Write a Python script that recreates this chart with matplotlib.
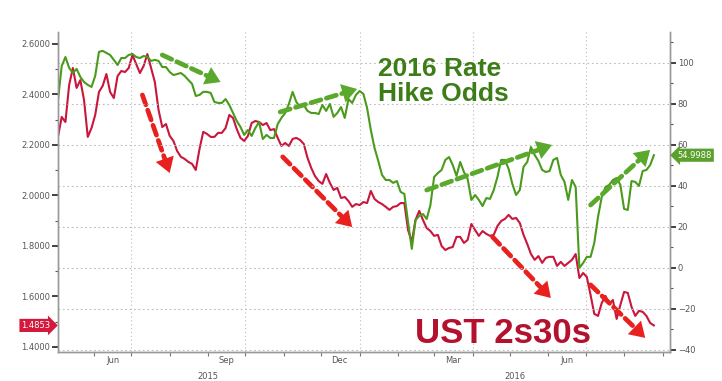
import pandas as pd
import matplotlib
matplotlib.use('Agg')
import matplotlib.pyplot as plt
import matplotlib.dates as mdates
import matplotlib.transforms as mtransforms
from matplotlib.ticker import MultipleLocator, FormatStrFormatter

# values, one sample every 3 days from 2015-05-03
start_date = '2015-05-03'
ust_2s30s = [
    2.232, 2.311, 2.291, 2.438, 2.505, 2.426, 2.457, 2.378, 2.232, 2.267,
    2.319, 2.410, 2.434, 2.481, 2.410, 2.386, 2.473, 2.493, 2.489, 2.505,
    2.556, 2.521, 2.485, 2.513, 2.560, 2.505, 2.450, 2.339, 2.271, 2.283,
    2.236, 2.216, 2.176, 2.153, 2.145, 2.133, 2.125, 2.101, 2.184, 2.252,
    2.244, 2.232, 2.232, 2.248, 2.248, 2.267, 2.319, 2.307, 2.263, 2.228,
    2.216, 2.236, 2.287, 2.295, 2.291, 2.279, 2.287, 2.259, 2.263, 2.228,
    2.196, 2.208, 2.196, 2.224, 2.228, 2.220, 2.204, 2.149, 2.109, 2.077,
    2.057, 2.046, 2.085, 2.050, 2.022, 2.030, 1.990, 1.994, 1.978, 1.955,
    1.966, 1.962, 1.974, 1.970, 2.018, 1.986, 1.974, 1.966, 1.955, 1.943,
    1.955, 1.958, 1.970, 1.970, 1.863, 1.816, 1.903, 1.939, 1.903, 1.871,
    1.859, 1.840, 1.844, 1.800, 1.784, 1.792, 1.796, 1.836, 1.836, 1.812,
    1.824, 1.887, 1.863, 1.840, 1.859, 1.848, 1.840, 1.844, 1.879, 1.899,
    1.907, 1.923, 1.907, 1.911, 1.891, 1.844, 1.808, 1.768, 1.745, 1.760,
    1.733, 1.753, 1.757, 1.757, 1.721, 1.737, 1.721, 1.733, 1.745, 1.768,
    1.673, 1.693, 1.677, 1.606, 1.531, 1.523, 1.574, 1.602, 1.570, 1.586,
    1.511, 1.566, 1.618, 1.614, 1.559, 1.523, 1.543, 1.539, 1.523, 1.495,
    1.4853,
]
hike_odds = [
    82.0, 98.5, 102.9, 97.6, 95.1, 97.1, 93.2, 90.7, 89.3, 88.3,
    93.7, 105.4, 105.9, 104.9, 103.9, 101.5, 99.0, 102.4, 102.4, 103.9,
    104.4, 102.9, 102.4, 103.4, 102.9, 101.0, 101.5, 101.0, 98.0, 98.0,
    95.6, 94.1, 94.6, 95.1, 93.7, 91.7, 89.8, 83.9, 84.4, 85.9,
    85.9, 85.4, 81.0, 80.5, 80.5, 82.4, 79.5, 75.6, 71.7, 68.8,
    64.9, 67.3, 64.4, 68.3, 71.2, 62.9, 64.9, 63.4, 63.4, 70.2,
    73.2, 75.6, 80.0, 85.9, 81.0, 78.5, 79.5, 76.6, 75.6, 75.6,
    75.1, 79.5, 76.6, 80.0, 73.7, 75.6, 78.5, 73.2, 82.4, 80.5,
    84.4, 86.3, 84.9, 78.0, 67.3, 58.5, 52.2, 45.4, 42.9, 42.9,
    41.5, 42.4, 37.1, 36.1, 22.4, 9.3, 23.4, 25.4, 26.3, 23.9,
    30.7, 44.4, 46.3, 47.8, 52.7, 54.1, 50.2, 44.9, 51.7, 46.8,
    43.4, 33.2, 35.6, 33.2, 30.2, 34.1, 33.7, 38.0, 44.4, 52.7,
    52.7, 48.3, 41.0, 35.6, 38.0, 49.3, 51.7, 59.0, 55.1, 52.2,
    47.8, 46.8, 47.3, 52.7, 53.7, 45.4, 42.0, 33.2, 42.9, 39.5,
    0.0, 2.4, 5.4, 5.4, 12.2, 24.9, 34.6, 39.5, 40.5, 42.9,
    43.9, 40.5, 28.8, 28.3, 42.4, 42.0, 40.0, 47.3, 47.8, 50.2,
    54.9988,
]
dates = pd.date_range(start_date, periods=len(ust_2s30s), freq='3D')

month_labels = ['Jun', 'Sep', 'Dec', 'Mar', 'Jun']
month_label_dates = ['2015-06-16', '2015-09-16', '2015-12-16', '2016-03-16', '2016-06-16']
year_labels = ['2015', '2016']
year_label_dates = ['2015-09-01', '2016-05-05']

# trend arrows: (start date, start value, end date, end value)
red_arrows = [
    ('2015-07-10', 2.398, '2015-08-01', 2.089),
    ('2015-10-31', 2.153, '2015-12-26', 1.875),
    ('2016-04-17', 1.836, '2016-06-03', 1.594),
    ('2016-07-05', 1.646, '2016-08-18', 1.436),
]
green_arrows = [
    ('2015-07-26', 103.9, '2015-09-11', 90.7),
    ('2015-10-29', 76.1, '2015-12-30', 87.3),
    ('2016-02-24', 38.0, '2016-06-04', 60.0),
    ('2016-07-05', 30.7, '2016-08-22', 57.6),
]

RED = '#c8163c'
GREEN = '#4a9a1c'
ARROW_RED = '#e8201e'
ARROW_GREEN = '#5aa82c'


def dashed_arrow(axis, d0, v0, d1, v1, color):
    p0 = (mdates.date2num(pd.Timestamp(d0)), v0)
    p1 = (mdates.date2num(pd.Timestamp(d1)), v1)
    axis.annotate('', xy=p1, xytext=p0,
                  arrowprops=dict(arrowstyle='-', color=color, lw=3.4,
                                  linestyle=(0, (2.2, 1.2)),
                                  shrinkA=0, shrinkB=8), zorder=6)
    axis.annotate('', xy=p1, xytext=p0,
                  arrowprops=dict(arrowstyle='-|>,head_length=0.6,head_width=0.38',
                                  color=color, lw=0, mutation_scale=18,
                                  shrinkA=0, shrinkB=0), zorder=6)


fig = plt.figure(figsize=(7.22, 3.81), dpi=100)
ax = fig.add_axes([0.0803, 0.0761, 0.8477, 0.8399])
ax2 = ax.twinx()

ax.plot(dates, ust_2s30s, color=RED, lw=1.5)
ax2.plot(dates, hike_odds, color=GREEN, lw=1.5)

ax.set_xlim(pd.Timestamp('2015-05-03'), pd.Timestamp('2016-09-07'))
ax.set_ylim(1.380, 2.6475)
ax2.set_ylim(-41.0, 115.1)

# axes look
for a in (ax, ax2):
    a.spines['top'].set_visible(False)
    for s in ('left', 'right', 'bottom'):
        a.spines[s].set_color('#999999')
        a.spines[s].set_linewidth(1.0)

ax.yaxis.set_major_locator(MultipleLocator(0.2))
ax.yaxis.set_minor_locator(MultipleLocator(0.1))
ax.yaxis.set_major_formatter(FormatStrFormatter('%.4f'))
ax2.yaxis.set_major_locator(MultipleLocator(20))
ax2.yaxis.set_minor_locator(MultipleLocator(10))

ax.xaxis.set_major_locator(mdates.MonthLocator(bymonth=[1, 4, 7, 10]))
ax.xaxis.set_minor_locator(mdates.MonthLocator())
ax.xaxis.set_major_formatter(plt.NullFormatter())

ax.tick_params(axis='y', which='major', length=4, width=1.3, colors='#333333',
               labelsize=6, labelcolor='#555555', pad=1.5)
ax.tick_params(axis='y', which='minor', length=2.5, width=0.8, colors='#555555')
ax2.tick_params(axis='y', which='major', length=4, width=1.3, colors='#333333',
                labelsize=6, labelcolor='#555555', pad=1.5)
ax2.tick_params(axis='y', which='minor', length=2.5, width=0.8, colors='#555555')
ax.tick_params(axis='x', which='both', length=3, width=0.8, colors='#777777')

ax.grid(axis='x', which='major', color='#bbbbbb', lw=0.8, linestyle=(0, (1, 2.5)))
ax2.grid(axis='y', which='major', color='#bbbbbb', lw=0.8, linestyle=(0, (1.5, 2.5)))
ax2.set_axisbelow(True)

# month and year labels under the axis
xblend = mtransforms.blended_transform_factory(ax.transData, ax.transAxes)
for lab, d in zip(month_labels, month_label_dates):
    ax.text(pd.Timestamp(d), -0.026, lab, transform=xblend, ha='center',
            va='center', fontsize=6, color='#555555')
for lab, d in zip(year_labels, year_label_dates):
    ax.text(pd.Timestamp(d), -0.078, lab, transform=xblend, ha='center',
            va='center', fontsize=6, color='#555555', clip_on=False)

# last value tags
yblend_l = mtransforms.blended_transform_factory(ax.transAxes, ax.transData)
ax.text(-0.012, ust_2s30s[-1], f'{ust_2s30s[-1]:.4f}', transform=yblend_l,
        ha='right', va='center', fontsize=6, color='white', zorder=10,
        bbox=dict(boxstyle='rarrow,pad=0.25', fc='#d41a3c', ec='none'))
yblend_r = mtransforms.blended_transform_factory(ax2.transAxes, ax2.transData)
ax2.text(1.012, hike_odds[-1], f'{hike_odds[-1]:.4f}'.rstrip('0'), transform=yblend_r,
         ha='left', va='center', fontsize=6, color='white', zorder=10,
         bbox=dict(boxstyle='larrow,pad=0.25', fc='#5aa02c', ec='none'))

# trend arrows
for d0, v0, d1, v1 in red_arrows:
    dashed_arrow(ax, d0, v0, d1, v1, ARROW_RED)
for d0, v0, d1, v1 in green_arrows:
    dashed_arrow(ax2, d0, v0, d1, v1, ARROW_GREEN)

# big labels
ax2.text(0.523, 0.845, '2016 Rate\nHike Odds', transform=ax2.transAxes,
         ha='left', va='center', fontsize=19, fontweight='bold',
         family='Liberation Sans', color='#3d7d18', linespacing=1.05, zorder=8)
ax2.text(0.583, 0.028, 'UST 2s30s', transform=ax2.transAxes,
         ha='left', va='baseline', fontsize=25, fontweight='bold',
         family='Liberation Sans', color='#b3112e', zorder=8)

fig.savefig('out.png', dpi=100)
